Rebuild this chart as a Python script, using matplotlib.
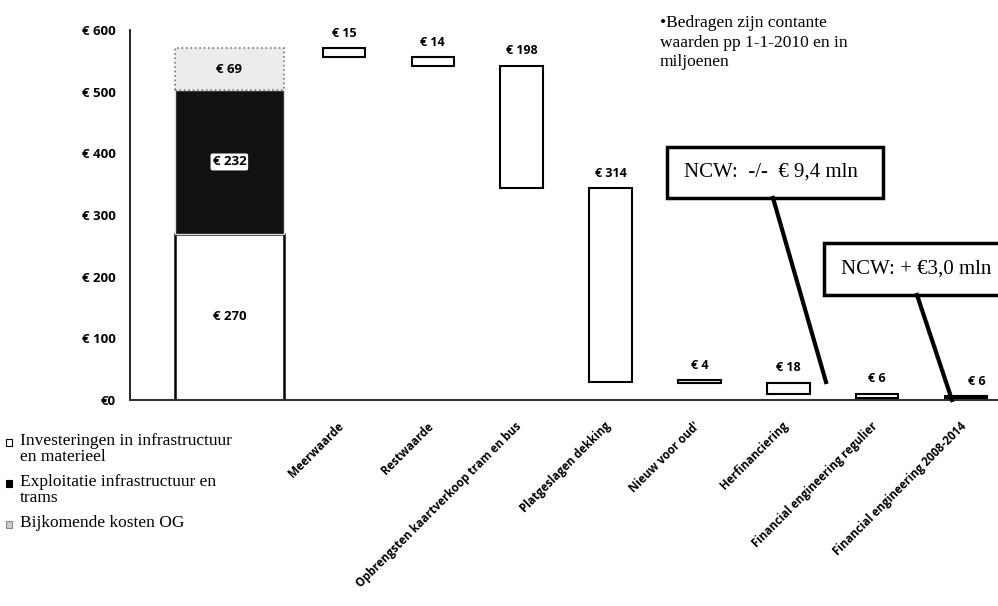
import matplotlib.pyplot as plt
from matplotlib.patches import Rectangle
from matplotlib.lines import Line2D

# stacked start bar (costs)
stack_names = ["Investeringen in infrastructuur\nen materieel",
               "Exploitatie infrastructuur en\ntrams",
               "Bijkomende kosten OG"]
stack_values = [270, 232, 69]

# waterfall steps (revenues / coverage)
categories = ["Meerwaarde", "Restwaarde", "Opbrengsten kaartverkoop tram en bus",
              "Platgeslagen dekking", "Nieuw voor oud'", "Herfinanciering",
              "Financial engineering regulier", "Financial engineering 2008-2014"]
step_values = [15, 14, 198, 314, 4, 18, 6, 6]
step_bases = [556, 542, 344, 30, 28, 10, 4, 0]

W, H = 998, 606
fig = plt.figure(figsize=(W / 100, H / 100), dpi=100)
ax = fig.add_axes([130 / W, 1 - 400 / H, 1 - 130 / W, (400 - 30) / H])

sans = "Open Sans"
serif = "Liberation Serif"

# first stacked column
x0 = -0.29
styles = [dict(facecolor="white", edgecolor="black", linewidth=1.8),
          dict(facecolor="#111111", edgecolor="#dddddd", linewidth=1.0),
          dict(facecolor="#ececec", edgecolor="#777777", linewidth=1.2, linestyle=":")]
bottom = 0
for v, st in zip(stack_values, styles):
    ax.bar(x0, v, bottom=bottom, width=1.23, **st)
    bottom += v

b = 0
for i, v in enumerate(stack_values):
    kw = dict(ha="center", va="center", fontsize=9.5, fontweight="bold", family=sans)
    if i == 1:
        kw["bbox"] = dict(boxstyle="round,pad=0.15", facecolor="white", edgecolor="none")
    ax.text(x0, b + v / 2, f"€ {v}", **kw)
    b += v

# waterfall steps
xs = list(range(1, len(categories) + 1))
for x, v, base in zip(xs, step_values, step_bases):
    fc = "black" if x == 8 else "white"
    ax.bar(x, v, bottom=base, width=0.48, facecolor=fc, edgecolor="black", linewidth=1.5)
    ax.annotate(f"€ {v}", xy=(x, base + v), xytext=(0 if x < 8 else 8, 6),
                textcoords="offset points", ha="center", va="bottom",
                fontsize=9, fontweight="bold", family=sans)

for x, lab in zip(xs, categories):
    ax.annotate(lab, xy=(x, 0), xytext=(2, -14), textcoords="offset points",
                ha="right", va="top", rotation=45, fontsize=8.3,
                fontweight="bold", family=sans)

ax.set_xlim(-1.408, 8.36)
ax.set_ylim(0, 600)
ax.set_yticks(range(0, 601, 100))
ax.set_yticklabels([f"€ {t}" if t else "€0" for t in range(0, 601, 100)],
                   fontsize=9.5, fontweight="bold", family=sans)
ax.set_xticks([])
ax.tick_params(axis="y", length=0, pad=10)
for s in ["top", "right"]:
    ax.spines[s].set_visible(False)
ax.spines["left"].set_linewidth(1.2)
ax.spines["bottom"].set_color("#333333")
ax.spines["bottom"].set_linewidth(1.5)


def fx(px):
    return px / W


def fy(py):
    return 1 - py / H


# legend
markers = [dict(facecolor="white", edgecolor="black"),
           dict(facecolor="black", edgecolor="black"),
           dict(facecolor="#cccccc", edgecolor="#888888")]
leg_y = [443, 484, 525]
for name, y, mk in zip(stack_names, leg_y, markers):
    fig.patches.append(Rectangle((fx(6), fy(y + 3)), 6 / W, 7 / H,
                                 transform=fig.transFigure, linewidth=0.8, **mk))
    fig.text(fx(20), fy(y - 10), name, ha="left", va="top", fontsize=12.5,
             family=serif, linespacing=1.02)

# note
fig.text(fx(660), fy(15), "•Bedragen zijn contante\nwaarden pp 1-1-2010 en in\nmiljoenen",
         ha="left", va="top", fontsize=12.5, family=serif, linespacing=1.3)

# NCW callouts
boxes = [((667, 147, 883, 198), "NCW:  -/-  € 9,4 mln", (773, 198), (826, 382)),
         ((824, 243, 1010, 295), "NCW: + €3,0 mln", (917, 295), (952, 400))]
for (l, t, r, bt), txt, p1, p2 in boxes:
    fig.patches.append(Rectangle((fx(l), fy(bt)), (r - l) / W, (bt - t) / H,
                                 transform=fig.transFigure, facecolor="white",
                                 edgecolor="black", linewidth=2.5))
    fig.lines.append(Line2D([fx(p1[0]), fx(p2[0])], [fy(p1[1]), fy(p2[1])],
                            transform=fig.transFigure, color="black", linewidth=3))
    fig.text(fx(l + 17), fy((t + bt) / 2), txt, ha="left", va="center",
             fontsize=15, family=serif)

fig.savefig("out.png", dpi=100)
